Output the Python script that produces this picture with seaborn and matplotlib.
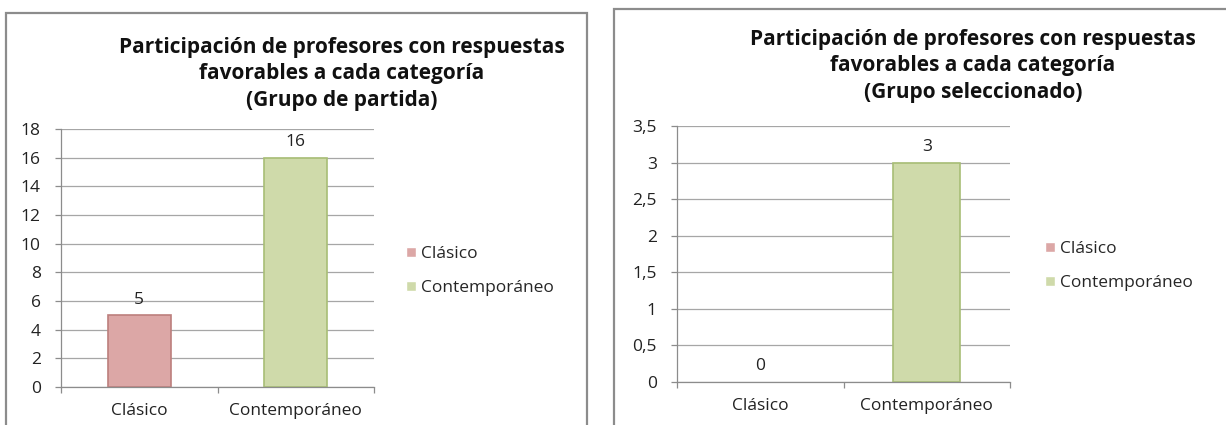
import pandas as pd
import matplotlib.pyplot as plt
from matplotlib.patches import Rectangle
from matplotlib.ticker import FuncFormatter, MultipleLocator
import seaborn as sns

categorias = ["Clásico", "Contemporáneo"]
grupo_partida = [5, 16]
grupo_seleccionado = [0, 3]
titulo = "Participación de profesores con respuestas\nfavorables a cada categoría"
subtitulos = ["(Grupo de partida)", "(Grupo seleccionado)"]
colores = ["#E59F9D", "#D3E2A2"]
bordes = ["#BC7F7D", "#A8BE76"]

sns.set_style("white")
plt.rcParams["font.family"] = ["Open Sans", "DejaVu Sans"]

W, H = 1226, 425
fig = plt.figure(figsize=(W / 100, H / 100), dpi=100)


def px(x0, y0, x1, y1):
    return [x0 / W, 1 - y1 / H, (x1 - x0) / W, (y1 - y0) / H]


# marcos de los dos graficos
for x0, y0, ancho in [(6, 13, 581), (614, 9, 700)]:
    fig.patches.append(Rectangle((x0 / W, -0.1), ancho / W, 1 - y0 / H + 0.1,
                                 transform=fig.transFigure, fill=False,
                                 ec="#8C8C8C", lw=1.6))

paneles = [
    # valores, subtitulo, caja de ejes (px), ymax, paso, centro titulo, tope titulo, leyenda
    (grupo_partida, subtitulos[0], (61, 129, 374, 387), 18, 2, 342, 37, (406, 271)),
    (grupo_seleccionado, subtitulos[1], (677, 126, 1010, 382), 3.5, 0.5, 973, 29, (1045, 266)),
]

fs = 12.5

for valores, sub, caja, ymax, paso, tx, ty, (lx, ly) in paneles:
    ax = fig.add_axes(px(*caja))
    df = pd.DataFrame({"categoria": categorias, "valor": valores})
    sns.barplot(data=df, x="categoria", y="valor", hue="categoria",
                palette=colores, width=0.4, ax=ax, legend=True)

    for bar, ec in zip(ax.patches, bordes):
        if bar.get_height() > 0:
            bar.set_edgecolor(ec)
            bar.set_linewidth(1.2)
        else:
            bar.set_linewidth(0)

    for cont in ax.containers:
        ax.bar_label(cont, fmt="%g", padding=5.5, fontsize=fs, color="#222222")

    ax.set_xlim(-0.5, 1.5)
    ax.set_ylim(0, ymax)
    ax.yaxis.set_major_locator(MultipleLocator(paso))
    ax.yaxis.set_major_formatter(FuncFormatter(lambda v, _: f"{v:g}".replace(".", ",")))
    ax.yaxis.grid(True, color="#A6A6A6", lw=0.9)
    ax.set_axisbelow(True)
    for s in ["top", "right"]:
        ax.spines[s].set_visible(False)
    for s in ["left", "bottom"]:
        ax.spines[s].set_color("#8C8C8C")
        ax.spines[s].set_linewidth(0.9)

    ax.set_xticks([-0.5, 0.5, 1.5], minor=True)
    ax.tick_params(axis="x", which="major", length=0, pad=11.5, labelsize=fs, labelcolor="#222222")
    ax.tick_params(axis="x", which="minor", bottom=True, length=4.5, width=0.9, color="#8C8C8C")
    ax.tick_params(axis="y", left=True, length=4.5, width=0.9, color="#8C8C8C", pad=10,
                   labelsize=fs, labelcolor="#222222")
    ax.set_xlabel("")
    ax.set_ylabel("")

    ax.legend(loc="center left", bbox_to_anchor=(lx / W, 1 - ly / H),
              bbox_transform=fig.transFigure, frameon=False, fontsize=fs,
              handlelength=0.55, handleheight=0.55, handletextpad=0.3,
              labelspacing=1.05, borderpad=0, borderaxespad=0)

    fig.text(tx / W, 1 - ty / H, titulo + "\n" + sub, ha="center", va="top",
             fontsize=15, fontweight="bold", linespacing=1.33, color="#111111")

fig.savefig("out.png", dpi=100)
